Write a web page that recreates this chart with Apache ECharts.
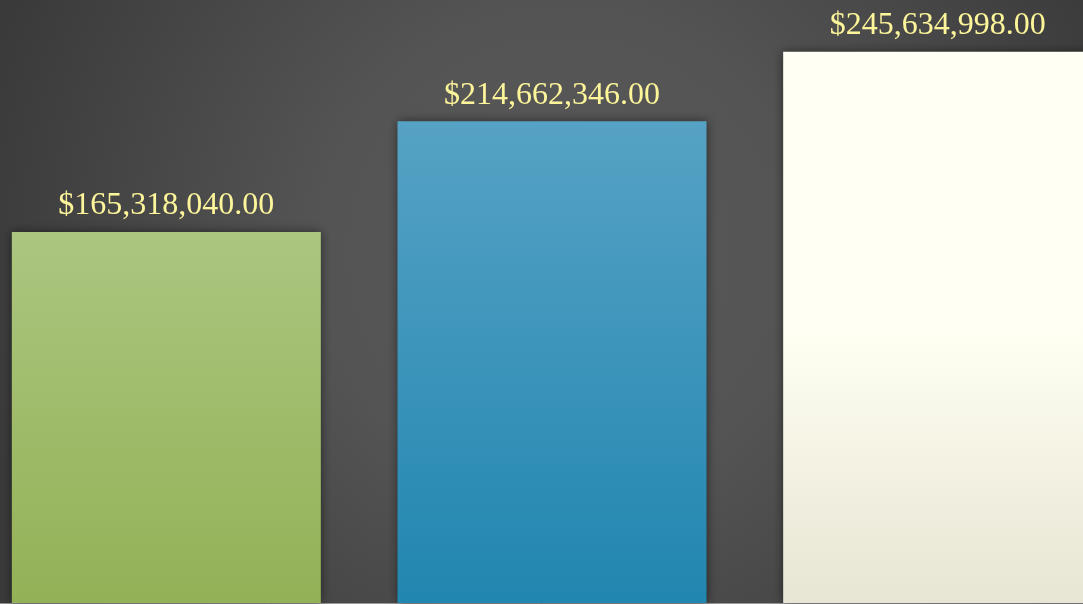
<!DOCTYPE html>
<html>
<head>
<meta charset="utf-8">
<script src="https://cdn.jsdelivr.net/npm/echarts@6/dist/echarts.min.js"></script>
<style>
  html, body { margin: 0; padding: 0; }
  #chart { width: 1083px; height: 604px; }
</style>
</head>
<body>
<div id="chart"></div>
<script>
var categories = ["A", "B", "C"];
var values = [165318040, 214662346, 245634998];

// top / bottom colours of each bar's gradient
var barTop = ["#abc67f", "#56a2c4", "#fffff3"];
var barBottom = ["#93b156", "#2186b0", "#e7e5d3"];

function money(v) {
  return "$" + v.toLocaleString("en-US", { minimumFractionDigits: 2, maximumFractionDigits: 2 });
}

var chart = echarts.init(document.getElementById("chart"));

var option = {
  backgroundColor: {
    type: "radial",
    x: 0.52, y: 0.42, r: 1.0,
    colorStops: [
      { offset: 0, color: "#595959" },
      { offset: 0.4, color: "#545454" },
      { offset: 1, color: "#3a3a3a" }
    ]
  },
  animation: false,
  grid: { left: -26.5, right: -47.5, top: -3, bottom: 1, outerBoundsMode: "none" },
  xAxis: {
    type: "category",
    data: categories,
    axisLine: { show: true, lineStyle: { color: "rgba(255,255,255,0.45)", width: 1 } },
    axisTick: { show: false },
    axisLabel: { show: false }
  },
  yAxis: {
    type: "value",
    min: 0,
    max: 270000000,
    show: false,
    splitLine: { show: false }
  },
  series: [{
    type: "bar",
    barWidth: 309,
    data: values.map(function (v, i) {
      return {
        value: v,
        itemStyle: {
          color: {
            type: "linear", x: 0, y: 0, x2: 0, y2: 1,
            colorStops: i === 2
              ? [{ offset: 0, color: barTop[i] }, { offset: 0.5, color: barTop[i] }, { offset: 1, color: barBottom[i] }]
              : [{ offset: 0, color: barTop[i] }, { offset: 1, color: barBottom[i] }]
          }
        }
      };
    }),
    itemStyle: {
      shadowBlur: 10,
      shadowColor: "rgba(0,0,0,0.5)"
    },
    label: {
      show: true,
      position: "top",
      distance: 10,
      color: "#fdf59a",
      fontFamily: "Liberation Serif",
      fontSize: 32,
      formatter: function (p) { return money(p.value); }
    }
  }]
};

chart.setOption(option);
</script>
</body>
</html>
